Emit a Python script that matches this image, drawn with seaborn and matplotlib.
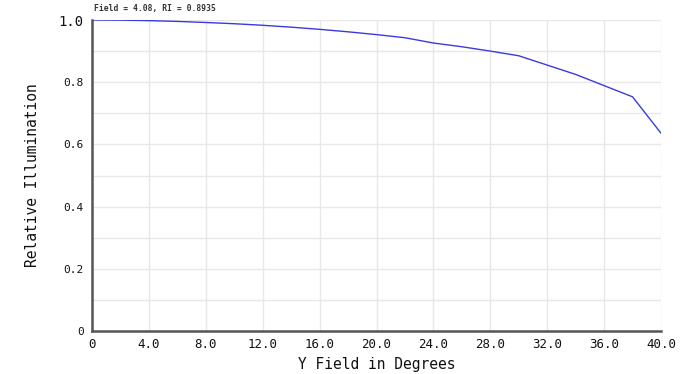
import matplotlib
matplotlib.use("Agg")
import matplotlib.pyplot as plt
import seaborn as sns
import pandas as pd

field_deg = [0, 2, 4, 6, 8, 10, 12, 14, 16, 18, 20, 22, 24, 26, 28, 30, 32, 34, 36, 38, 40]
rel_illum = [1.0, 0.9995, 0.998, 0.9955, 0.992, 0.988, 0.983, 0.977, 0.970, 0.962, 0.953, 0.943, 0.926, 0.914, 0.900, 0.885, 0.855, 0.825, 0.789, 0.753, 0.636]
title_text = "Field = 4.08, RI = 0.8935"
x_ticks = [0, 4, 8, 12, 16, 20, 24, 28, 32, 36, 40]
x_labels = ["0", "4.0", "8.0", "12.0", "16.0", "20.0", "24.0", "28.0", "32.0", "36.0", "40.0"]
y_ticks = [0, 0.1, 0.2, 0.3, 0.4, 0.5, 0.6, 0.7, 0.8, 0.9, 1.0]
y_labels = ["0", "", "0.2", "", "0.4", "", "0.6", "", "0.8", "", "1.0"]

sns.set_theme(style="white")
plt.rcParams['font.family'] = ['DejaVu Sans Mono', 'DejaVu Sans']

df = pd.DataFrame({"x": field_deg, "y": rel_illum})
fig = plt.figure(figsize=(6.83, 3.74), dpi=100)
ax = fig.add_axes([92/683, 1-331/374, 569/683, 311/374])
sns.lineplot(data=df, x="x", y="y", ax=ax, color="#3a3ae0", linewidth=1.0)

ax.set_xlim(0, 40)
ax.set_ylim(0, 1.0)
ax.set_xticks(x_ticks)
ax.set_xticklabels(x_labels, fontsize=9, color="#111111")
ax.set_yticks(y_ticks)
ax.set_yticklabels(y_labels, fontsize=8, color="#111111")
for lab in ax.get_yticklabels():
    if lab.get_text() == "1.0":
        lab.set_fontsize(10)
ax.grid(True, color="#e8e8e8", linewidth=1.0)
ax.set_axisbelow(True)
ax.tick_params(axis="both", length=0)
ax.tick_params(axis="x", pad=5)
ax.tick_params(axis="y", pad=6)
for s in ["top", "right"]:
    ax.spines[s].set_visible(False)
for s in ["left", "bottom"]:
    ax.spines[s].set_color("#555555")
    ax.spines[s].set_linewidth(1.8)
ax.set_xlabel("Y Field in Degrees", fontsize=10.5, labelpad=4, color="#111111")
ax.set_ylabel("Relative Illumination", fontsize=10.5, labelpad=13, color="#111111")
fig.text(94/683, 1-8/374, title_text, fontsize=5.8, ha="left", va="center",
         fontweight="bold", color="#333333")
fig.savefig("out.png", dpi=100)
